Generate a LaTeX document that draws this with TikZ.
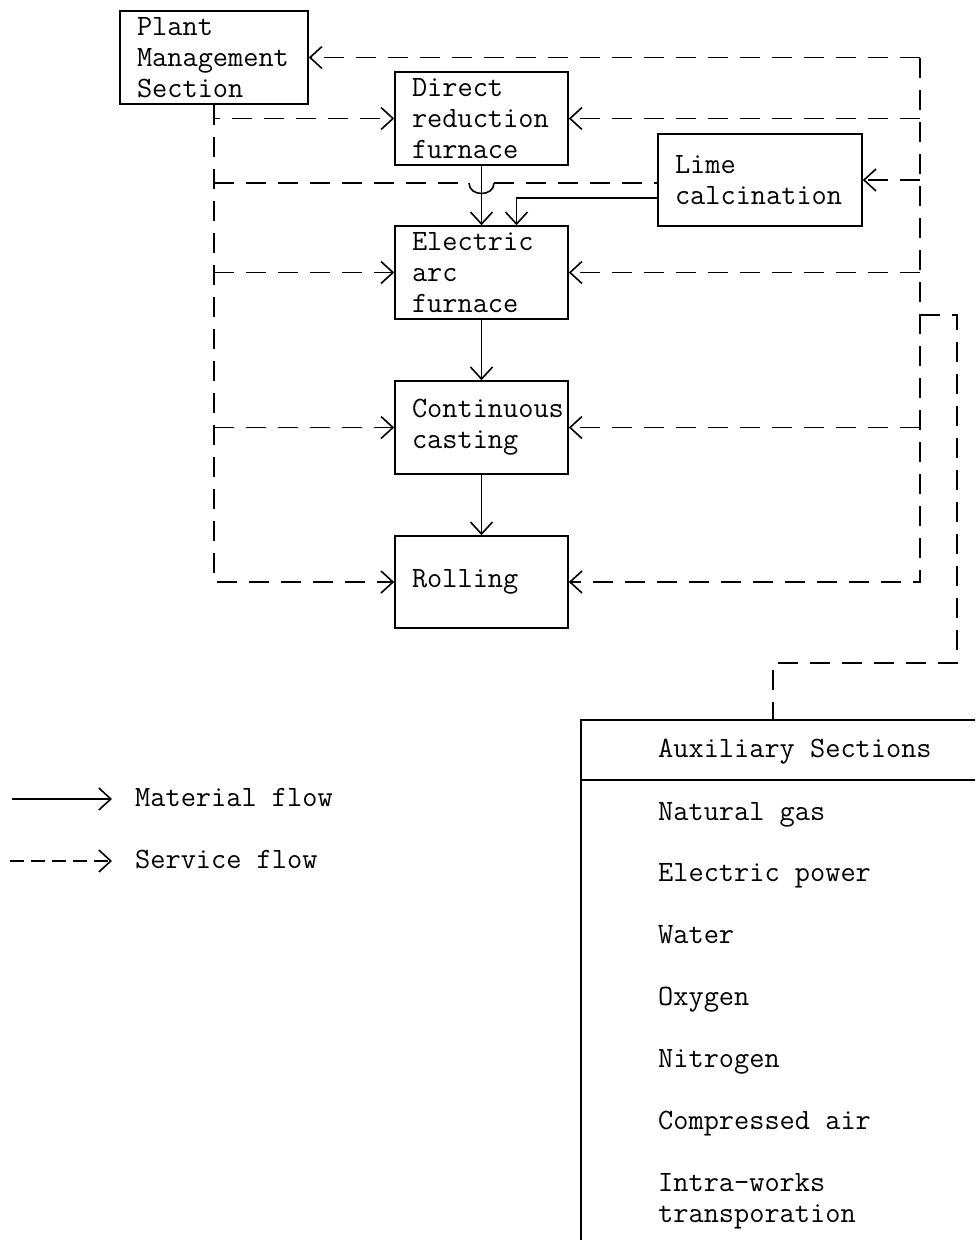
\documentclass[tikz,border=0pt]{standalone}
\usetikzlibrary{arrows.meta}
\begin{document}
\begin{tikzpicture}[x=1pt,y=-1pt,
  txt/.style={font=\fontsize{29.5}{30.7}\selectfont\ttfamily},
  box/.style={txt, draw, line width=1.6pt, inner xsep=0pt, inner ysep=0pt, align=left},
  tip/.style={-{Straight Barb[length=12pt,width=22pt]}},
  mat/.style={line width=1.6pt},
  svc/.style={line width=1.6pt, dash pattern=on 20pt off 12pt},
  lab/.style={txt, anchor=base west, inner sep=0pt}]
\useasboundingbox[fill=white] (0,0) rectangle (975,1240);

% process boxes
\node[box, minimum width=188pt, minimum height=93pt, text width=154pt] (pm) at (214,57.5) {Plant\\Management\\Section};
\node[box, minimum width=173pt, minimum height=93pt, text width=139pt] (dr) at (481.5,118.5) {Direct\\reduction\\furnace};
\node[box, minimum width=204pt, minimum height=92pt, text width=170pt] (lime) at (760,180) {Lime\\calcination};
\node[box, minimum width=173pt, minimum height=93pt, text width=139pt] (eaf) at (481.5,272.5) {Electric\\arc\\furnace};
\node[box, minimum width=173pt, minimum height=93pt, text width=139pt] (cc) at (481.5,427.5) {Continuous\\casting};
\node[box, minimum width=173pt, minimum height=92pt, text width=139pt] (roll) at (481.5,582) {Rolling};

% material flow
\draw[mat,tip] (dr.south) -- (eaf.north);
\draw[mat,tip] (eaf.south) -- (cc.north);
\draw[mat,tip] (cc.south) -- (roll.north);
\draw[mat,tip] ([yshift=-18pt]lime.west) -| ([xshift=35pt]eaf.north);

% service flow from plant management (left trunk)
\draw[svc,tip] (pm.south) |- (dr.west);
\draw[svc,tip] (pm.south) |- (roll.west);
\draw[svc,tip] (pm.south |- eaf.west) -- (eaf.west);
\draw[svc,tip] (pm.south |- cc.west) -- (cc.west);
\coordinate (hl) at (pm.south |- 0,183);
\coordinate (hr) at ([yshift=-3pt]lime.west);
\coordinate (h1) at (469,183);
\coordinate (h2) at (494,183);
\draw[svc] (hl) -- (h1);
\draw[mat] (h1) .. controls (469,197) and (494,197) .. (h2);
\draw[svc] (h2) -- (hr);

% service flow from auxiliary sections (right trunk)
\coordinate (rtop) at (920,57.5);
\draw[svc,tip] (rtop) -- (pm.east);
\draw[svc,tip] (rtop) |- (roll.east);
\draw[svc,tip] (rtop |- dr.east) -- (dr.east);
\draw[svc,tip] (rtop |- lime.east) -- (lime.east);
\draw[svc,tip] (rtop |- eaf.east) -- (eaf.east);
\draw[svc,tip] (rtop |- cc.east) -- (cc.east);

% link to auxiliary sections
\coordinate (j) at (920,315);
\coordinate (auxtop) at (773,720);
\draw[svc] (j) -- (957,315) -- (957,663) -- (auxtop |- 0,663) -- (auxtop);

% auxiliary sections box
\draw[line width=1.6pt] (581,1240) -- (581,720) -- (975,720);
\draw[line width=1.6pt] (581,780) -- (975,780);
\node[lab] (auxh) at (658,757) {Auxiliary Sections};
\node[lab] (a1) at (658,820) {Natural gas};
\node[lab] (a2) at (658,881) {Electric power};
\node[lab] (a3) at (658,943) {Water};
\node[lab] (a4) at (658,1005) {Oxygen};
\node[lab] (a5) at (658,1067) {Nitrogen};
\node[lab] (a6) at (658,1129) {Compressed air};
\node[lab] (a7) at (658,1191) {Intra-works};
\node[lab] (a8) at (658,1222) {transporation};

% legend
\coordinate (l1a) at (12,799);
\coordinate (l1b) at (112,799);
\coordinate (l2a) at (10,861);
\coordinate (l2b) at (112,861);
\draw[mat,tip] (l1a) -- (l1b);
\draw[line width=1.6pt, dash pattern=on 14pt off 7pt, tip] (l2a) -- (l2b);
\node[lab] (lg1) at (135,806) {Material flow};
\node[lab] (lg2) at (135,868) {Service flow};
\end{tikzpicture}
\end{document}
